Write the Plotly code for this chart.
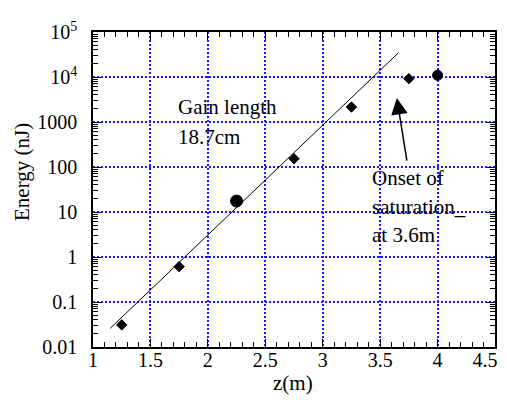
import math
import plotly.graph_objects as go

# ---- data ----
z_m = [1.25, 1.75, 2.25, 2.75, 3.25, 3.75, 4.0]
energy_nj = [0.031, 0.61, 17.5, 153, 2150, 9200, 10900]

fit_z = [1.15, 3.66]
fit_energy = [0.026, 34700]

x_tickvals = [1, 1.5, 2, 2.5, 3, 3.5, 4, 4.5]
x_ticktext = ["1", "1.5", "2", "2.5", "3", "3.5", "4", "4.5\u00a0\u00a0\u00a0\u00a0"]
y_tickvals = [0.01, 0.1, 1, 10, 100, 1000, 1e4, 1e5]
y_ticktext = ["0.01", "0.1", "1", "10", "100", "1000", "10<sup>4</sup>", "10<sup>5</sup>"]

arrow_tip = (3.645, 3420)
arrow_tail = (3.735, 128)

# ---- styles ----
marker_symbols = ["diamond", "diamond", "circle", "diamond", "diamond", "diamond", "circle"]
marker_sizes = [8, 8, 12, 8, 8, 8, 10]
FONT = "Liberation Serif, Times New Roman, serif"
GRID = "#1a1aff"

# plot area in window pixels (page body has an 8px margin)
PX_L, PX_R, PX_T, PX_B = 93, 495, 32, 347


def paper_x(px):
    return (px - PX_L) / (PX_R - PX_L)


def paper_y(py):
    return 1 - (py - PX_T) / (PX_B - PX_T)


fig = go.Figure()
fig.add_trace(go.Scatter(x=fit_z, y=fit_energy, mode="lines",
                         line=dict(color="black", width=1), showlegend=False))
fig.add_trace(go.Scatter(x=z_m, y=energy_nj, mode="markers",
                         marker=dict(color="black", symbol=marker_symbols, size=marker_sizes,
                                     line=dict(color="black", width=1), opacity=1),
                         showlegend=False))

axis_common = dict(
    showline=True, linecolor="black", linewidth=1.5, mirror="ticks",
    ticks="inside", tickcolor="black", ticklen=8, tickwidth=1.2,
    showgrid=True, gridcolor=GRID, griddash="2px,2px", gridwidth=1.5,
    zeroline=False, tickfont=dict(family=FONT, size=20, color="black"),
    automargin=False, ticklabeloverflow="allow",
)

fig.update_xaxes(
    range=[1, 4.5], tickvals=x_tickvals, ticktext=x_ticktext,
    minor=dict(ticks="inside", ticklen=5, dtick=0.1, tickcolor="black", showgrid=False),
    ticklabelstandoff=-6,
    **axis_common,
)
fig.update_yaxes(
    type="log", range=[-2, 5], tickvals=y_tickvals, ticktext=y_ticktext,
    minor=dict(ticks="inside", ticklen=5, dtick="D1", tickcolor="black", showgrid=False),
    ticklabelstandoff=10,
    **axis_common,
)

ann_font = dict(family=FONT, size=21, color="black")
texts = [
    ("Gain length", 1.72, 107),
    ("18.7cm", 1.72, 137),
    ("Onset of", 3.41, 178),
    ("saturation_", 3.41, 207),
    ("at 3.6m", 3.41, 235),
]
for t, xv, ypix in texts:
    fig.add_annotation(x=xv, xref="x", y=paper_y(ypix), yref="paper",
                       text=t, showarrow=False, xanchor="left", yanchor="middle",
                       font=ann_font)

# axis titles
fig.add_annotation(x=paper_x(293), xref="paper", y=paper_y(383), yref="paper",
                   text="z(m)", showarrow=False, xanchor="center", yanchor="middle",
                   font=ann_font)
fig.add_annotation(x=paper_x(22), xref="paper", y=paper_y(172), yref="paper",
                   text="Energy (nJ)", showarrow=False, xanchor="center", yanchor="middle",
                   textangle=-90, font=ann_font)

fig.add_annotation(x=arrow_tip[0], y=math.log10(arrow_tip[1]), xref="x", yref="y",
                   ax=arrow_tail[0], ay=math.log10(arrow_tail[1]), axref="x", ayref="y",
                   showarrow=True, arrowhead=2, arrowsize=2.2, arrowwidth=1.5,
                   arrowcolor="black", text="")

# figure is offset by the page's 8px body margin
fig.update_layout(
    width=499, height=392,
    margin=dict(l=PX_L - 8, r=507 - PX_R, t=PX_T - 8, b=400 - PX_B),
    paper_bgcolor="white", plot_bgcolor="white",
    font=dict(family=FONT, color="black"),
)

fig.write_html("out.html")
